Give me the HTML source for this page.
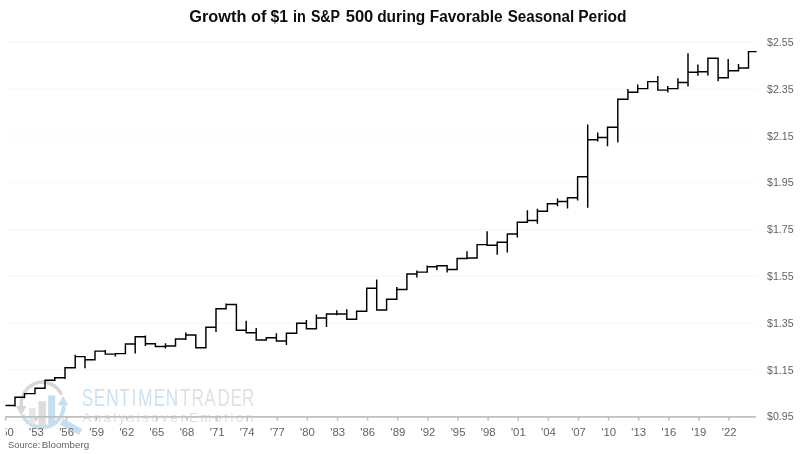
<!DOCTYPE html>
<html><head><meta charset="utf-8"><title>Growth of $1 in S&amp;P 500 during Favorable Seasonal Period</title>
<style>html,body{margin:0;padding:0;background:#fff}svg{display:block}text{font-family:"Liberation Sans",sans-serif}</style></head><body>
<svg width="800" height="454" viewBox="0 0 800 454">
<rect width="800" height="454" fill="#fff"/>
<line x1="5.6" x2="756.5" y1="42.40" y2="42.40" stroke="#f1f1f1" stroke-width="1.2" stroke-dasharray="1 1"/>
<line x1="5.6" x2="756.5" y1="89.19" y2="89.19" stroke="#f1f1f1" stroke-width="1.2" stroke-dasharray="1 1"/>
<line x1="5.6" x2="756.5" y1="135.98" y2="135.98" stroke="#f1f1f1" stroke-width="1.2" stroke-dasharray="1 1"/>
<line x1="5.6" x2="756.5" y1="182.77" y2="182.77" stroke="#f1f1f1" stroke-width="1.2" stroke-dasharray="1 1"/>
<line x1="5.6" x2="756.5" y1="229.56" y2="229.56" stroke="#f1f1f1" stroke-width="1.2" stroke-dasharray="1 1"/>
<line x1="5.6" x2="756.5" y1="276.35" y2="276.35" stroke="#f1f1f1" stroke-width="1.2" stroke-dasharray="1 1"/>
<line x1="5.6" x2="756.5" y1="323.14" y2="323.14" stroke="#f1f1f1" stroke-width="1.2" stroke-dasharray="1 1"/>
<line x1="5.6" x2="756.5" y1="369.93" y2="369.93" stroke="#f1f1f1" stroke-width="1.2" stroke-dasharray="1 1"/>
<g id="wm">
<path d="M21.25,406.96 L21.25,405.96 A21.2,22.3 0 0 1 61.45,394.62" fill="none" stroke="#d7d7d7" stroke-width="3.5"/>
<path d="M16,406 L26.5,406 L21.2,415.4 Z" fill="#d7d7d7"/>
<path d="M22.41,414.98 A21.8,22.3 0 0 0 63.80,405.20" fill="none" stroke="#c6dff0" stroke-width="3.9"/>
<path d="M57.8,405.3 L68.4,405.3 L63.1,395.8 Z" fill="#c6dff0"/>
<rect x="29" y="407.9" width="6.7" height="15.6" fill="#e6e6e6"/>
<rect x="38.4" y="401.2" width="7.5" height="25" fill="#dcdcdc"/>
<rect x="48.1" y="395.4" width="7.1" height="28.6" fill="#c6dff0"/>
<path d="M61.5,421.5 L80.75,432.05" stroke="#c6dff0" stroke-width="6.6" fill="none"/>
<text transform="scale(0.73,1)" x="112.1 128.3 145.4 163.2 180.2 189.5 210.5 227.2" y="405.8" font-size="23.5" fill="#cde2f1">SENTIMEN</text>
<text transform="scale(0.73,1)" x="246.5 262.4 279.8 297.8 315.7 331.6" y="405.8" font-size="23.5" fill="#e1e1e1">TRADER</text>
<text y="421.7" font-size="13.2" fill="#dedede"><tspan x="82.50" textLength="66.25" lengthAdjust="spacing">Analysis</tspan> <tspan x="150.97" textLength="34.23" lengthAdjust="spacing">over</tspan> <tspan x="189.14" textLength="64.26" lengthAdjust="spacing">Emotion</tspan></text>
</g>
<line x1="5.0" x2="755.9" y1="416.9" y2="416.9" stroke="#c0c0c0" stroke-width="1.7"/>
<line x1="5.75" x2="5.75" y1="416.9" y2="420.7" stroke="#c0c0c0" stroke-width="1.5"/>
<line x1="36.40" x2="36.40" y1="416.9" y2="420.7" stroke="#c0c0c0" stroke-width="1.5"/>
<line x1="66.52" x2="66.52" y1="416.9" y2="420.7" stroke="#c0c0c0" stroke-width="1.5"/>
<line x1="96.63" x2="96.63" y1="416.9" y2="420.7" stroke="#c0c0c0" stroke-width="1.5"/>
<line x1="126.75" x2="126.75" y1="416.9" y2="420.7" stroke="#c0c0c0" stroke-width="1.5"/>
<line x1="156.86" x2="156.86" y1="416.9" y2="420.7" stroke="#c0c0c0" stroke-width="1.5"/>
<line x1="186.97" x2="186.97" y1="416.9" y2="420.7" stroke="#c0c0c0" stroke-width="1.5"/>
<line x1="217.09" x2="217.09" y1="416.9" y2="420.7" stroke="#c0c0c0" stroke-width="1.5"/>
<line x1="247.20" x2="247.20" y1="416.9" y2="420.7" stroke="#c0c0c0" stroke-width="1.5"/>
<line x1="277.32" x2="277.32" y1="416.9" y2="420.7" stroke="#c0c0c0" stroke-width="1.5"/>
<line x1="307.43" x2="307.43" y1="416.9" y2="420.7" stroke="#c0c0c0" stroke-width="1.5"/>
<line x1="337.55" x2="337.55" y1="416.9" y2="420.7" stroke="#c0c0c0" stroke-width="1.5"/>
<line x1="367.66" x2="367.66" y1="416.9" y2="420.7" stroke="#c0c0c0" stroke-width="1.5"/>
<line x1="397.78" x2="397.78" y1="416.9" y2="420.7" stroke="#c0c0c0" stroke-width="1.5"/>
<line x1="427.89" x2="427.89" y1="416.9" y2="420.7" stroke="#c0c0c0" stroke-width="1.5"/>
<line x1="458.01" x2="458.01" y1="416.9" y2="420.7" stroke="#c0c0c0" stroke-width="1.5"/>
<line x1="488.12" x2="488.12" y1="416.9" y2="420.7" stroke="#c0c0c0" stroke-width="1.5"/>
<line x1="518.24" x2="518.24" y1="416.9" y2="420.7" stroke="#c0c0c0" stroke-width="1.5"/>
<line x1="548.36" x2="548.36" y1="416.9" y2="420.7" stroke="#c0c0c0" stroke-width="1.5"/>
<line x1="578.47" x2="578.47" y1="416.9" y2="420.7" stroke="#c0c0c0" stroke-width="1.5"/>
<line x1="608.58" x2="608.58" y1="416.9" y2="420.7" stroke="#c0c0c0" stroke-width="1.5"/>
<line x1="638.70" x2="638.70" y1="416.9" y2="420.7" stroke="#c0c0c0" stroke-width="1.5"/>
<line x1="668.81" x2="668.81" y1="416.9" y2="420.7" stroke="#c0c0c0" stroke-width="1.5"/>
<line x1="698.93" x2="698.93" y1="416.9" y2="420.7" stroke="#c0c0c0" stroke-width="1.5"/>
<line x1="729.04" x2="729.04" y1="416.9" y2="420.7" stroke="#c0c0c0" stroke-width="1.5"/>
<path d="M5.5,405.5 L15,405.5 L15,406.5 L15,397.3 L24.5,397.3 L24.5,398.2 L24.5,393.6 L35,393.6 L35,388.2 L45,388.2 L45,380.3 L54.8,380.3 L54.8,377.7 L65,377.7 L65,379 L65,367.7 L75.2,367.7 L75.2,354.8 L75.2,356.6 L85,356.6 L85,368.3 L85,359.7 L95,359.7 L95,351.1 L105.3,351.1 L105.3,350 L105.3,354.1 L115.4,354.1 L115.4,356.6 L115.4,353.6 L125.4,353.6 L125.4,344 L135.2,344 L135.2,353.6 L135.2,336.7 L145.4,336.7 L145.4,335.4 L145.4,345.9 L145.4,343.7 L155.4,343.7 L155.4,346.5 L165.5,346.5 L165.5,343.3 L165.5,348.4 L165.5,345.9 L175.5,345.9 L175.5,338.9 L185.8,338.9 L185.8,340 L185.8,332.4 L185.8,334.9 L195.8,334.9 L195.8,347.7 L205.9,347.7 L205.9,327.2 L216,327.2 L216,332 L216,308.7 L226.1,308.7 L226.1,303.5 L226.1,304.4 L236.4,304.4 L236.4,330.2 L246.2,330.2 L246.2,320.8 L246.2,333.2 L246.2,332.7 L256.2,332.7 L256.2,327.9 L256.2,340 L266.3,340 L266.3,337.7 L276.4,337.7 L276.4,333.3 L276.4,341 L286.4,341 L286.4,345 L286.4,333.3 L296.7,333.3 L296.7,323.3 L306.4,323.3 L306.4,320 L306.4,328.8 L316.4,328.8 L316.4,314.6 L316.4,318 L326.5,318 L326.5,327.1 L326.5,313.9 L336.8,313.9 L336.8,310.2 L336.8,315.2 L336.8,313.9 L346.8,313.9 L346.8,309.2 L346.8,319.2 L356.6,319.2 L356.6,311.2 L366.7,311.2 L366.7,287.5 L366.7,288.3 L376.7,288.3 L376.7,279.4 L376.7,310 L386.6,310 L386.6,299.2 L396.8,299.2 L396.8,287.1 L396.8,289.4 L406.9,289.4 L406.9,274 L416.9,274 L416.9,277.5 L416.9,270.6 L416.9,272.1 L427.2,272.1 L427.2,265.5 L427.2,266.8 L436.9,266.8 L436.9,270.3 L436.9,265.7 L447.1,265.7 L447.1,272.5 L447.1,269.4 L457.1,269.4 L457.1,258.5 L467,258.5 L467,251.3 L467,258 L477.1,258 L477.1,244.6 L487.1,244.6 L487.1,231.2 L487.1,245.3 L497.2,245.3 L497.2,254.8 L497.2,242.2 L507.3,242.2 L507.3,252.5 L507.3,234 L517.3,234 L517.3,237.5 L517.3,222.3 L527.4,222.3 L527.4,210.3 L527.4,220.4 L537.4,220.4 L537.4,223.8 L537.4,208.7 L537.4,211.3 L547.4,211.3 L547.4,203.7 L557.5,203.7 L557.5,206.2 L557.5,198.6 L557.5,201.5 L567.5,201.5 L567.5,208.4 L567.5,197.8 L577.6,197.8 L577.6,200.6 L577.6,176.8 L587.7,176.8 L587.7,207.8 L587.7,124.4 L587.7,139.8 L597.7,139.8 L597.7,141.4 L597.7,132.4 L597.7,137.4 L607.5,137.4 L607.5,146.2 L607.5,127.3 L617.8,127.3 L617.8,142.4 L617.8,99.2 L627.9,99.2 L627.9,88.9 L627.9,92.3 L637.7,92.3 L637.7,84.5 L637.7,88.6 L647.7,88.6 L647.7,81.6 L657.8,81.6 L657.8,76 L657.8,90.1 L667.8,90.1 L667.8,92.6 L667.8,86.1 L667.8,88.6 L677.9,88.6 L677.9,78.2 L677.9,82.4 L688,82.4 L688,86.5 L688,53.2 L688,72.3 L697.9,72.3 L697.9,75.8 L697.9,64.5 L697.9,71.7 L707.9,71.7 L707.9,75.5 L707.9,57.4 L707.9,58.2 L718.1,58.2 L718.1,81.2 L718.1,77.7 L728.2,77.7 L728.2,58.9 L728.2,70.8 L738.5,70.8 L738.5,63.9 L738.5,67.9 L748.5,67.9 L748.5,51.6 L756.7,51.6" fill="none" stroke="#000" stroke-width="1.45" stroke-linejoin="miter" stroke-linecap="butt"/>
<text y="22" font-size="16" font-weight="bold" fill="#0d0d0d"><tspan x="189.25" textLength="57.12" lengthAdjust="spacingAndGlyphs">Growth</tspan> <tspan x="251.05" textLength="15.42" lengthAdjust="spacingAndGlyphs">of</tspan> <tspan x="270.59" textLength="17.42" lengthAdjust="spacingAndGlyphs">$1</tspan> <tspan x="292.89" textLength="12.86" lengthAdjust="spacingAndGlyphs">in</tspan> <tspan x="310.88" textLength="28.93" lengthAdjust="spacingAndGlyphs">S&amp;P</tspan> <tspan x="345.70" textLength="27.64" lengthAdjust="spacingAndGlyphs">500</tspan> <tspan x="377.18" textLength="48.11" lengthAdjust="spacingAndGlyphs">during</tspan> <tspan x="429.72" textLength="72.81" lengthAdjust="spacingAndGlyphs">Favorable</tspan> <tspan x="507.75" textLength="66.43" lengthAdjust="spacingAndGlyphs">Seasonal</tspan> <tspan x="578.21" textLength="48.30" lengthAdjust="spacingAndGlyphs">Period</tspan></text>
<text x="766.99" y="46.10" font-size="10.3" fill="#636363" textLength="26.66" lengthAdjust="spacingAndGlyphs">$2.55</text>
<text x="766.99" y="92.89" font-size="10.3" fill="#636363" textLength="26.66" lengthAdjust="spacingAndGlyphs">$2.35</text>
<text x="766.99" y="139.68" font-size="10.3" fill="#636363" textLength="26.66" lengthAdjust="spacingAndGlyphs">$2.15</text>
<text x="766.99" y="186.47" font-size="10.3" fill="#636363" textLength="26.66" lengthAdjust="spacingAndGlyphs">$1.95</text>
<text x="766.99" y="233.26" font-size="10.3" fill="#636363" textLength="26.66" lengthAdjust="spacingAndGlyphs">$1.75</text>
<text x="766.99" y="280.05" font-size="10.3" fill="#636363" textLength="26.66" lengthAdjust="spacingAndGlyphs">$1.55</text>
<text x="766.99" y="326.84" font-size="10.3" fill="#636363" textLength="26.66" lengthAdjust="spacingAndGlyphs">$1.35</text>
<text x="766.99" y="373.63" font-size="10.3" fill="#636363" textLength="26.66" lengthAdjust="spacingAndGlyphs">$1.15</text>
<text x="766.99" y="420.42" font-size="10.3" fill="#636363" textLength="26.66" lengthAdjust="spacingAndGlyphs">$0.95</text>
<clipPath id="c0"><rect x="5.6" y="420" width="30" height="20"/></clipPath>
<text clip-path="url(#c0)" x="-1.03" y="436" font-size="10.1" fill="#636363" textLength="14.77" lengthAdjust="spacingAndGlyphs">'50</text>
<text x="29.09" y="436" font-size="10.1" fill="#636363" textLength="14.77" lengthAdjust="spacingAndGlyphs">'53</text>
<text x="59.20" y="436" font-size="10.1" fill="#636363" textLength="14.77" lengthAdjust="spacingAndGlyphs">'56</text>
<text x="89.32" y="436" font-size="10.1" fill="#636363" textLength="14.77" lengthAdjust="spacingAndGlyphs">'59</text>
<text x="119.43" y="436" font-size="10.1" fill="#636363" textLength="14.77" lengthAdjust="spacingAndGlyphs">'62</text>
<text x="149.55" y="436" font-size="10.1" fill="#636363" textLength="14.77" lengthAdjust="spacingAndGlyphs">'65</text>
<text x="179.66" y="436" font-size="10.1" fill="#636363" textLength="14.77" lengthAdjust="spacingAndGlyphs">'68</text>
<text x="209.78" y="436" font-size="10.1" fill="#636363" textLength="14.77" lengthAdjust="spacingAndGlyphs">'71</text>
<text x="239.89" y="436" font-size="10.1" fill="#636363" textLength="14.77" lengthAdjust="spacingAndGlyphs">'74</text>
<text x="270.01" y="436" font-size="10.1" fill="#636363" textLength="14.77" lengthAdjust="spacingAndGlyphs">'77</text>
<text x="300.12" y="436" font-size="10.1" fill="#636363" textLength="14.77" lengthAdjust="spacingAndGlyphs">'80</text>
<text x="330.24" y="436" font-size="10.1" fill="#636363" textLength="14.77" lengthAdjust="spacingAndGlyphs">'83</text>
<text x="360.35" y="436" font-size="10.1" fill="#636363" textLength="14.77" lengthAdjust="spacingAndGlyphs">'86</text>
<text x="390.47" y="436" font-size="10.1" fill="#636363" textLength="14.77" lengthAdjust="spacingAndGlyphs">'89</text>
<text x="420.58" y="436" font-size="10.1" fill="#636363" textLength="14.77" lengthAdjust="spacingAndGlyphs">'92</text>
<text x="450.70" y="436" font-size="10.1" fill="#636363" textLength="14.77" lengthAdjust="spacingAndGlyphs">'95</text>
<text x="480.81" y="436" font-size="10.1" fill="#636363" textLength="14.77" lengthAdjust="spacingAndGlyphs">'98</text>
<text x="510.93" y="436" font-size="10.1" fill="#636363" textLength="14.77" lengthAdjust="spacingAndGlyphs">'01</text>
<text x="541.04" y="436" font-size="10.1" fill="#636363" textLength="14.77" lengthAdjust="spacingAndGlyphs">'04</text>
<text x="571.16" y="436" font-size="10.1" fill="#636363" textLength="14.77" lengthAdjust="spacingAndGlyphs">'07</text>
<text x="601.27" y="436" font-size="10.1" fill="#636363" textLength="14.77" lengthAdjust="spacingAndGlyphs">'10</text>
<text x="631.39" y="436" font-size="10.1" fill="#636363" textLength="14.77" lengthAdjust="spacingAndGlyphs">'13</text>
<text x="661.50" y="436" font-size="10.1" fill="#636363" textLength="14.77" lengthAdjust="spacingAndGlyphs">'16</text>
<text x="691.62" y="436" font-size="10.1" fill="#636363" textLength="14.77" lengthAdjust="spacingAndGlyphs">'19</text>
<text x="721.73" y="436" font-size="10.1" fill="#636363" textLength="14.77" lengthAdjust="spacingAndGlyphs">'22</text>
<text y="447.7" font-size="8.8" fill="#636363"><tspan x="8.03" textLength="32.27" lengthAdjust="spacingAndGlyphs">Source:</tspan> <tspan x="41.72" textLength="47.43" lengthAdjust="spacingAndGlyphs">Bloomberg</tspan></text>
</svg></body></html>
